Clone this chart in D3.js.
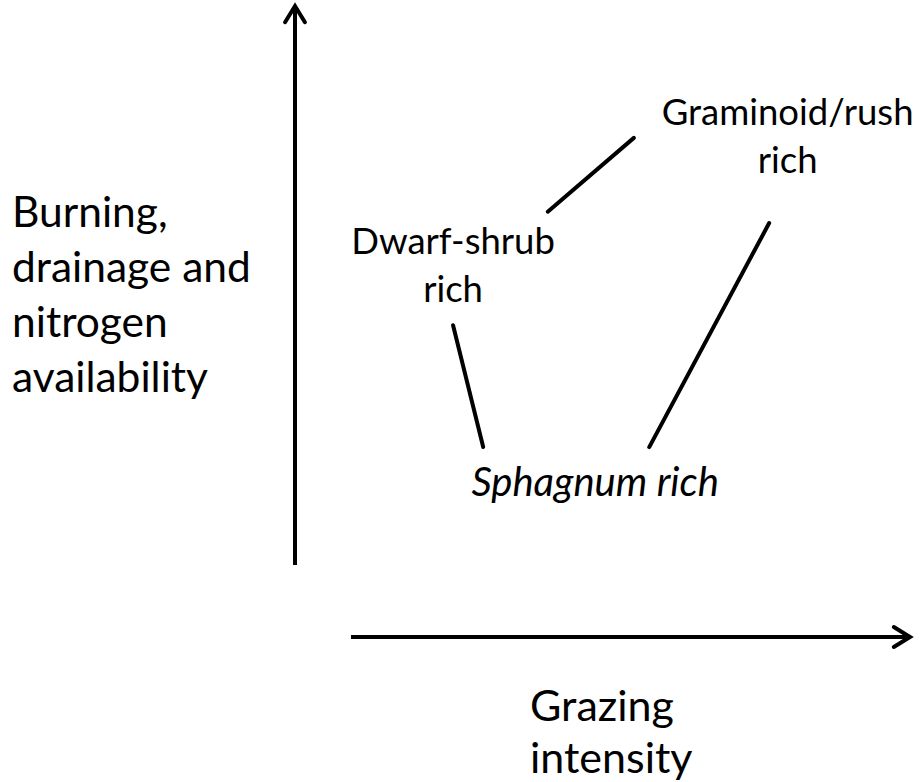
<!DOCTYPE html>
<html>
<head>
<meta charset="utf-8">
<script src="https://cdn.jsdelivr.net/npm/d3@7"></script>
<style>
  body { margin: 0; background: #fff; }
  text { font-family: Lato, "Open Sans", sans-serif; fill: #000; }
</style>
</head>
<body>
<div id="chart"></div>
<script>
// communities: label lines, label centre (x) and first baseline (y) in diagram units
var communities = ["Graminoid/rush rich", "Dwarf-shrub rich", "Sphagnum rich"];
var labelLines = [["Graminoid/rush", "rich"], ["Dwarf-shrub", "rich"], ["Sphagnum rich"]];
var labelX = [8.01, 2.57, 4.88];
var labelY = [8.11, 6.07, 2.23];
var labelItalic = [false, false, true];

// connectors between communities: [x1, y1, x2, y2]
var links = [
  [4.11, 6.74, 5.51, 7.91],
  [7.71, 6.56, 5.76, 3.01],
  [2.57, 4.94, 3.06, 3.01]
];

// axis arrows: [x1, y1, x2, y2]
var axes = [
  [0, 1.14, 0, 10],
  [0.91, 0, 10, 0]
];
var yTitle = ["Burning,", "drainage and", "nitrogen", "availability"];
var xTitle = ["Grazing", "intensity"];

var width = 920,
	height = 782;

var x = d3.scaleLinear().domain([0, 10]).range([295, 910]);
var y = d3.scaleLinear().domain([0, 10]).range([637, 6]);

var svg = d3.select("#chart")
	.append("svg")
	.attr("width", width)
	.attr("height", height);

// axes with open arrow heads
svg.selectAll("line.axis")
	.data(axes)
	.enter().append("line")
	.attr("class", "axis")
	.attr("x1", function(d) { return x(d[0]); })
	.attr("y1", function(d) { return y(d[1]); })
	.attr("x2", function(d) { return x(d[2]); })
	.attr("y2", function(d) { return y(d[3]); })
	.style("stroke", "#000")
	.style("stroke-width", 4);

svg.selectAll("path.head")
	.data(axes)
	.enter().append("path")
	.attr("class", "head")
	.attr("d", function(d) {
		var tx = x(d[2]), ty = y(d[3]);
		var a = Math.atan2(ty - y(d[1]), tx - x(d[0]));
		var len = 19, spread = 0.55;
		var p1 = [tx - len * Math.cos(a - spread), ty - len * Math.sin(a - spread)];
		var p2 = [tx - len * Math.cos(a + spread), ty - len * Math.sin(a + spread)];
		return "M" + p1 + "L" + tx + "," + ty + "L" + p2;
	})
	.style("fill", "none")
	.style("stroke", "#000")
	.style("stroke-width", 4)
	.style("stroke-linejoin", "miter")
	.style("stroke-linecap", "round");

// connectors
svg.selectAll("line.link")
	.data(links)
	.enter().append("line")
	.attr("class", "link")
	.attr("x1", function(d) { return x(d[0]); })
	.attr("y1", function(d) { return y(d[1]); })
	.attr("x2", function(d) { return x(d[2]); })
	.attr("y2", function(d) { return y(d[3]); })
	.style("stroke", "#000")
	.style("stroke-width", 4)
	.style("stroke-linecap", "round");

var lineGap = 48;

// community labels
var lab = svg.selectAll("text.community")
	.data(communities)
	.enter().append("text")
	.attr("class", "community")
	.attr("text-anchor", "middle")
	.style("font-size", function(d, i) { return labelItalic[i] ? "40px" : "36.5px"; })
	.style("font-style", function(d, i) { return labelItalic[i] ? "italic" : "normal"; })
	.attr("transform", function(d, i) { return "translate(" + x(labelX[i]) + "," + y(labelY[i]) + ")"; });

lab.selectAll("tspan")
	.data(function(d, i) { return labelLines[i]; })
	.enter().append("tspan")
	.attr("x", 0)
	.attr("y", function(d, j) { return j * lineGap; })
	.text(function(d) { return d; });

// axis titles
svg.append("text")
	.style("font-size", "42.5px")
	.selectAll("tspan")
	.data(yTitle)
	.enter().append("tspan")
	.attr("x", 12)
	.attr("y", function(d, i) { return 227 + i * 55; })
	.text(function(d) { return d; });

svg.append("text")
	.style("font-size", "43px")
	.selectAll("tspan")
	.data(xTitle)
	.enter().append("tspan")
	.attr("x", 530)
	.attr("y", function(d, i) { return 721 + i * 52; })
	.text(function(d) { return d; });
</script>
</body>
</html>
